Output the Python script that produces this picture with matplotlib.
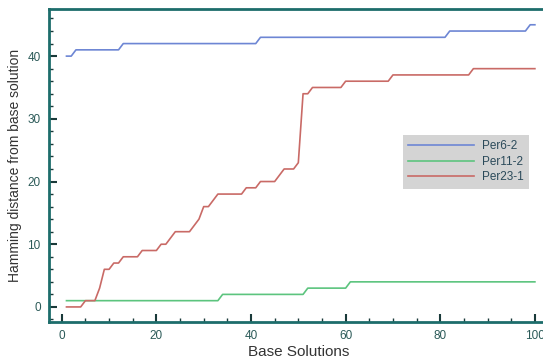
import numpy as np
import matplotlib
matplotlib.use('Agg')
import matplotlib.pyplot as plt
from matplotlib.ticker import MultipleLocator

plt.rcParams['font.family'] = ['Liberation Sans', 'DejaVu Sans']

# step levels and how many base solutions stay on each level (x = 1..100)
per6_levels = [40, 41, 42, 43, 44, 45]
per6_runs = [2, 10, 29, 40, 17, 2]

per11_levels = [1, 2, 3, 4]
per11_runs = [33, 18, 9, 40]

per23_levels = [0, 1, 3, 6, 7, 8, 9, 10, 11, 12, 13, 14, 16, 17, 18, 19, 20, 21, 22, 23, 34, 35, 36, 37, 38]
per23_runs = [4, 3, 1, 2, 2, 4, 4, 2, 1, 4, 1, 1, 2, 1, 6, 3, 4, 1, 3, 1, 2, 7, 10, 17, 14]

labels = ['Per6-2', 'Per11-2', 'Per23-1']
colors = ['#6d86d4', '#5cc47e', '#c96a66']

x = np.arange(1, 101)
per6 = np.repeat(per6_levels, per6_runs)
per11 = np.repeat(per11_levels, per11_runs)
per23 = np.repeat(per23_levels, per23_runs)

fig = plt.figure(figsize=(5.43, 3.58), dpi=100)
ax = fig.add_axes([0.0902, 0.1006, 0.921, 0.874])

for y, lab, c in zip([per6, per11, per23], labels, colors):
    ax.plot(x, y, color=c, lw=1.2, label=lab)

ax.set_xlim(-2.7, 103)
ax.set_ylim(-2.4, 47.5)

spine_c = '#1d6d6b'
for s in ['left', 'bottom', 'top']:
    ax.spines[s].set_color(spine_c)
    ax.spines[s].set_linewidth(2)
ax.spines['right'].set_visible(False)

ax.xaxis.set_major_locator(MultipleLocator(20))
ax.xaxis.set_minor_locator(MultipleLocator(5))
ax.yaxis.set_major_locator(MultipleLocator(10))
ax.yaxis.set_minor_locator(MultipleLocator(2))
ax.tick_params(which='both', direction='in', top=False, right=False,
               color='#1a3a3a', labelcolor='#2b5a58', labelsize=8.5)
ax.tick_params(which='major', length=6, width=1.5, pad=6)
ax.tick_params(which='minor', length=3, width=1)

ax.set_xlabel('Base Solutions', fontsize=11, color='#333333', labelpad=2)
ax.set_ylabel('Hamming distance from base solution', fontsize=10, color='#333333', labelpad=4)

leg = ax.legend(loc='upper left', bbox_to_anchor=(403 / 543, 1 - 135 / 358),
                bbox_transform=fig.transFigure, frameon=True,
                fancybox=False, fontsize=8.5, handlelength=5.6, handletextpad=0.6,
                borderpad=0.45, borderaxespad=0, labelspacing=0.3)
leg.get_frame().set_facecolor('#d4d4d4')
leg.get_frame().set_edgecolor('none')
leg.get_frame().set_alpha(1)
for t in leg.get_texts():
    t.set_color('#2b4a5a')

fig.savefig('out.png', dpi=100)
